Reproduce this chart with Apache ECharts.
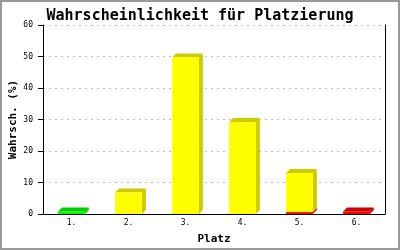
<!DOCTYPE html>
<html><head><meta charset="utf-8">
<script src="https://cdn.jsdelivr.net/npm/echarts@6/dist/echarts.min.js"></script>
<style>html,body{margin:0;padding:0;background:#fff}#c{width:400px;height:250px}</style>
</head><body><div id="c"></div>
<script>
var categories = ['1.', '2.', '3.', '4.', '5.', '6.'];
var greenValues = [0.8, 0, 0, 0, 0, 0];
var redValues = [0, 0, 0, 0, 0.6, 0.8];
var yellowValues = [0, 6.8, 49.7, 29.2, 12.4, 0];
var yTicks = [0, 10, 20, 30, 40, 50, 60];

var seriesDefs = [
  {name: 'grün', values: greenValues, front: '#00ff00', dark: '#00cc00'},
  {name: 'rot', values: redValues, front: '#ff0000', dark: '#cc0000'},
  {name: 'gelb', values: yellowValues, front: '#ffff00', dark: '#cccc00'}
];
var base = categories.map(function(){return 0;});
var series = seriesDefs.map(function(def){
  var data = [];
  def.values.forEach(function(v, i){
    if (v > 0) { data.push([i, base[i], base[i] + v]); base[i] += v; }
  });
  return {
    type: 'custom', name: def.name, data: data, silent: true,
    encode: {x: 0, y: [1, 2]},
    renderItem: function(params, api){
      var i = api.value(0);
      var p0 = api.coord([i, api.value(1)]);
      var p1 = api.coord([i, api.value(2)]);
      var w = api.size([1, 0])[0] * 0.47;
      var x0 = p0[0] - w / 2, x1 = p0[0] + w / 2;
      var yb = p0[1], yt = p1[1], d = 4;
      return {type: 'group', children: [
        {type: 'polygon', shape: {points: [[x1, yt], [x1 + d, yt - d], [x1 + d, yb - d], [x1, yb]]}, style: {fill: def.dark}},
        {type: 'polygon', shape: {points: [[x0, yt], [x0 + d, yt - d], [x1 + d, yt - d], [x1, yt]]}, style: {fill: def.dark}},
        {type: 'rect', shape: {x: x0, y: yt, width: w, height: yb - yt}, style: {fill: def.front}}
      ]};
    }
  };
});

var chart = echarts.init(document.getElementById('c'), null, {renderer: 'canvas'});
chart.setOption({
  animation: false,
  backgroundColor: '#fff',
  title: {text: 'Wahrscheinlichkeit für Platzierung', left: 'center', top: 4,
    textStyle: {fontFamily: 'DejaVu Sans Mono', fontWeight: 'bold', fontSize: 15, color: '#000'}},
  grid: {left: 43, right: 15, top: 25, bottom: 36, outerBoundsMode: 'none', containLabel: false},
  xAxis: {type: 'category', data: categories,
    name: 'Platz', nameLocation: 'middle', nameGap: 20, nameMoveOverlap: false,
    nameTextStyle: {fontFamily: 'DejaVu Sans Mono', fontWeight: 'bold', fontSize: 11, color: '#000'},
    axisLine: {lineStyle: {color: '#000', width: 1}}, axisTick: {show: false},
    axisLabel: {fontFamily: 'DejaVu Sans Mono', fontSize: 8, color: '#000', margin: 5},
    splitLine: {show: false}},
  yAxis: [{type: 'value', min: yTicks[0], max: yTicks[yTicks.length - 1], interval: 10,
    name: 'Wahrsch. (%)', nameLocation: 'middle', nameGap: 24, nameMoveOverlap: false,
    nameTextStyle: {fontFamily: 'DejaVu Sans Mono', fontWeight: 'bold', fontSize: 11, color: '#000'},
    axisLine: {show: true, lineStyle: {color: '#000', width: 1}},
    axisTick: {show: true, length: 5, lineStyle: {color: '#000'}},
    axisLabel: {fontFamily: 'DejaVu Sans Mono', fontSize: 8, color: '#000', margin: 10},
    splitLine: {show: true, lineStyle: {color: '#c0c0c0', type: [2, 4]}}},
   {type: 'value', position: 'right', min: yTicks[0], max: yTicks[yTicks.length - 1], interval: 10,
    axisLine: {show: true, lineStyle: {color: '#000', width: 1}}, axisTick: {show: false},
    axisLabel: {show: false}, splitLine: {show: false}}],
  graphic: [{type: 'rect', shape: {x: 1, y: 1, width: 398, height: 248},
    style: {fill: null, stroke: '#999', lineWidth: 2}, silent: true}],
  series: series
});
</script></body></html>
